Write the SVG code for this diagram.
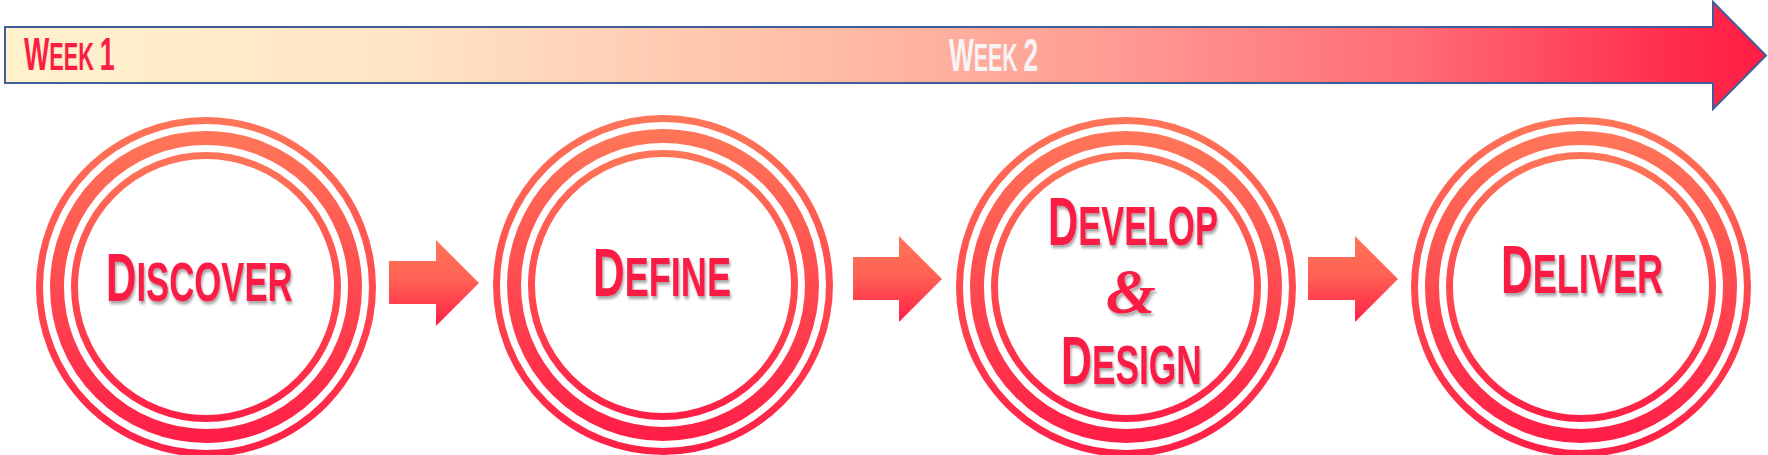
<svg xmlns="http://www.w3.org/2000/svg" width="1768" height="455" viewBox="0 0 1768 455">
  <defs>
    <linearGradient id="barGrad" x1="0" y1="0" x2="1" y2="0">
      <stop offset="0" stop-color="#FFF2CC"/>
      <stop offset="0.23" stop-color="#FFE4C4"/>
      <stop offset="0.5" stop-color="#FFB6A2"/>
      <stop offset="0.62" stop-color="#FF9E94"/>
      <stop offset="0.8" stop-color="#FF6C76"/>
      <stop offset="0.95" stop-color="#FF2C4C"/>
      <stop offset="1" stop-color="#FF1C44"/>
    </linearGradient>
    <linearGradient id="ringGrad" x1="0" y1="0" x2="0" y2="1">
      <stop offset="0" stop-color="#FF7558"/>
      <stop offset="1" stop-color="#FF1F47"/>
    </linearGradient>
    <linearGradient id="arrowGrad" x1="0" y1="0" x2="0" y2="1">
      <stop offset="0" stop-color="#FF7558"/>
      <stop offset="0.45" stop-color="#FF6254"/>
      <stop offset="1" stop-color="#FF1F47"/>
    </linearGradient>
    <filter id="shadow" x="-10%" y="-20%" width="120%" height="150%">
      <feDropShadow dx="2" dy="3" stdDeviation="1.5" flood-color="#000" flood-opacity="0.35"/>
    </filter>
  </defs>
  <style>
    .ring-thin { fill: none; stroke: url(#ringGrad); stroke-width: 7; }
    .ring-thick { fill: none; stroke: url(#ringGrad); stroke-width: 14; }
    .inner { fill: #FFFFFF; }
    .label { font-family: "Liberation Sans", Arial, sans-serif; font-weight: bold; fill: #FA1E45; filter: url(#shadow); }
    .week { font-family: "Liberation Sans", Arial, sans-serif; font-weight: bold; }
    .big { font-size: 68px; }
    .small { font-size: 56px; }
    .wbig { font-size: 47px; }
    .wsmall { font-size: 38px; }
    .arrow { fill: url(#arrowGrad); }
  </style>

  <g id="timeline">
    <polygon points="5,27 1713,27 1713,2 1766,55.5 1713,109 1713,83 5,83" fill="url(#barGrad)" stroke="#3F5E99" stroke-width="2"/>
    <text class="week" transform="translate(24,70) scale(0.57,1)" fill="#FA1E45"><tspan class="wbig">W</tspan><tspan class="wsmall">EEK </tspan><tspan class="wbig">1</tspan></text>
    <text class="week" transform="translate(949,71) scale(0.56,1)" fill="#F8F4F4"><tspan class="wbig">W</tspan><tspan class="wsmall">EEK </tspan><tspan class="wbig">2</tspan></text>
  </g>

  <g id="connectors">
    <polygon class="arrow" points="389,261 436,261 436,240 479,283 436,326 436,304 389,304"/>
    <polygon class="arrow" points="853,257 899,257 899,236 942,279 899,322 899,300 853,300"/>
    <polygon class="arrow" points="1308,257 1355,257 1355,236 1398,279 1355,322 1355,300 1308,300"/>
  </g>

  <g id="discover">
    <circle class="ring-thin" cx="206" cy="287" r="166.5"/>
    <circle class="ring-thick" cx="206" cy="287" r="149"/>
    <circle class="ring-thin inner" cx="206" cy="287" r="131.5"/>
    <text class="label" transform="translate(106,301) scale(0.62,1)"><tspan class="big">D</tspan><tspan class="small">ISCOVER</tspan></text>
  </g>

  <g id="define">
    <circle class="ring-thin" cx="663" cy="285" r="166.5"/>
    <circle class="ring-thick" cx="663" cy="285" r="149"/>
    <circle class="ring-thin inner" cx="663" cy="285" r="131.5"/>
    <text class="label" transform="translate(593,296) scale(0.645,1)"><tspan class="big">D</tspan><tspan class="small">EFINE</tspan></text>
  </g>

  <g id="develop-design">
    <circle class="ring-thin" cx="1126" cy="287" r="166.5"/>
    <circle class="ring-thick" cx="1126" cy="287" r="149"/>
    <circle class="ring-thin inner" cx="1126" cy="287" r="131.5"/>
    <text class="label" transform="translate(1048,245) scale(0.615,1)"><tspan class="big">D</tspan><tspan class="small">EVELOP</tspan></text>
    <text class="label" x="1131" y="313" text-anchor="middle" font-size="64" style="font-family: 'Liberation Serif', serif; font-style: italic;">&amp;</text>
    <text class="label" transform="translate(1061,384) scale(0.63,1)"><tspan class="big">D</tspan><tspan class="small">ESIGN</tspan></text>
  </g>

  <g id="deliver">
    <circle class="ring-thin" cx="1581" cy="287" r="166.5"/>
    <circle class="ring-thick" cx="1581" cy="287" r="149"/>
    <circle class="ring-thin inner" cx="1581" cy="287" r="131.5"/>
    <text class="label" transform="translate(1501,293) scale(0.645,1)"><tspan class="big">D</tspan><tspan class="small">ELIVER</tspan></text>
  </g>
</svg>
